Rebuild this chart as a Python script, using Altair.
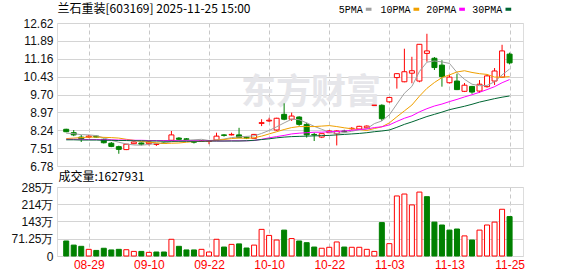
import json
import altair as alt
import pandas as pd

# ---------------- data ----------------
opens = [8.28, 8.14, 7.96, 7.96, 8.00, 7.87, 7.71, 7.57, 7.45, 7.69,
         7.72, 7.69, 7.66, 7.72, 7.83, 7.92, 7.89, 7.78, 7.78, 7.78,
         7.84, 8.05, 8.05, 8.05, 7.95, 7.91, 8.52, 8.62, 8.25, 8.89,
         8.69, 8.78, 8.48, 8.07, 7.96, 8.14, 8.10, 8.21, 8.30, 8.29,
         8.34, 9.26, 9.26, 9.40, 10.39, 10.22, 10.57, 10.25, 11.38, 11.18,
         10.90, 10.18, 10.25, 9.83, 10.03, 9.84, 10.02, 10.25, 10.41, 11.35]
highs = [8.30, 8.25, 8.05, 8.05, 8.02, 7.90, 7.76, 7.61, 7.68, 7.78,
         7.74, 7.78, 7.70, 7.75, 8.21, 7.96, 7.92, 7.80, 7.84, 7.82,
         8.14, 8.08, 8.14, 8.34, 7.98, 8.09, 8.69, 8.75, 8.75, 9.34,
         8.96, 8.81, 8.55, 8.14, 8.10, 8.25, 8.24, 8.26, 8.37, 8.42,
         8.44, 9.26, 9.30, 9.58, 10.57, 11.57, 11.24, 11.76, 12.18, 11.23,
         11.10, 10.50, 10.55, 10.17, 10.05, 10.29, 10.52, 10.78, 11.73, 11.41]
lows = [8.16, 8.00, 7.76, 7.92, 7.94, 7.70, 7.55, 7.28, 7.43, 7.67,
        7.62, 7.62, 7.60, 7.68, 7.80, 7.84, 7.83, 7.70, 7.76, 7.67,
        7.82, 7.98, 8.03, 7.92, 7.88, 7.90, 8.41, 8.58, 8.22, 8.65,
        8.62, 8.42, 7.94, 7.80, 7.92, 8.12, 7.62, 8.15, 8.26, 8.27,
        8.32, 9.26, 8.62, 9.36, 9.94, 10.20, 10.16, 10.20, 11.04, 10.70,
        10.02, 10.15, 9.88, 9.80, 9.73, 9.77, 9.98, 10.09, 10.38, 10.93]
closes = [8.18, 8.05, 7.89, 8.00, 7.96, 7.73, 7.58, 7.46, 7.67, 7.76,
          7.67, 7.76, 7.68, 7.70, 8.05, 7.87, 7.86, 7.75, 7.80, 7.80,
          8.00, 8.03, 8.07, 7.94, 7.92, 8.07, 8.55, 8.65, 8.73, 8.69,
          8.82, 8.48, 8.05, 8.05, 8.10, 8.21, 8.21, 8.18, 8.32, 8.40,
          8.41, 9.26, 8.71, 9.58, 10.55, 10.63, 10.67, 11.75, 11.48, 10.80,
          10.43, 10.41, 9.90, 10.08, 9.80, 10.12, 10.46, 10.66, 11.48, 10.99]
# volume in 万 shares
volumes = [62, 45, 40, 27.5, 23, 32, 25, 27.5, 26, 19,
           19, 15, 16.5, 16.5, 69, 40, 25, 25, 27.5, 16.5,
           69, 37, 48, 50, 33, 45, 110, 85, 66, 107,
           72, 62, 55, 37, 32, 36, 58, 37, 36, 36,
           27.5, 19, 138, 51, 248, 256, 211, 264, 245, 140,
           128, 107, 111.5, 83, 66, 107, 128, 140, 193, 162.79]
vol_up = [0, 0, 0, 1, 0, 0, 0, 0, 1, 1, 0, 1, 0, 0, 1, 0, 0, 0, 1, 1,
          1, 0, 1, 0, 0, 1, 1, 1, 1, 0, 1, 0, 0, 0, 1, 1, 1, 0, 1, 1,
          1, 1, 0, 1, 1, 1, 1, 1, 0, 0, 0, 0, 0, 1, 0, 1, 1, 1, 1, 0]
ma5 = [8.12, 8.10, 8.06, 8.05, 8.02, 7.93, 7.83, 7.75, 7.68, 7.64,
       7.63, 7.66, 7.70, 7.71, 7.77, 7.81, 7.83, 7.85, 7.87, 7.82,
       7.84, 7.88, 7.94, 7.97, 7.99, 8.01, 8.11, 8.23, 8.38, 8.54,
       8.69, 8.67, 8.54, 8.40, 8.28, 8.16, 8.11, 8.14, 8.20, 8.26,
       8.30, 8.51, 8.62, 8.87, 9.31, 9.75, 10.03, 10.64, 11.02, 11.07,
       11.03, 10.97, 10.60, 10.32, 10.12, 10.06, 10.07, 10.22, 10.50, 10.74]
ma10 = [7.90, 7.92, 7.94, 7.96, 7.96, 7.95, 7.94, 7.92, 7.87, 7.83,
        7.78, 7.75, 7.73, 7.70, 7.71, 7.72, 7.75, 7.78, 7.79, 7.80,
        7.83, 7.86, 7.90, 7.92, 7.91, 7.93, 8.00, 8.09, 8.18, 8.27,
        8.35, 8.39, 8.39, 8.39, 8.41, 8.43, 8.39, 8.34, 8.30, 8.27,
        8.23, 8.31, 8.38, 8.54, 8.79, 9.03, 9.27, 9.63, 9.95, 10.19,
        10.39, 10.50, 10.62, 10.67, 10.60, 10.55, 10.52, 10.41, 10.41, 10.43]
ma20 = [7.87, 7.87, 7.87, 7.86, 7.86, 7.85, 7.85, 7.84, 7.84, 7.83,
        7.83, 7.82, 7.82, 7.82, 7.82, 7.81, 7.81, 7.81, 7.81, 7.81,
        7.80, 7.80, 7.81, 7.81, 7.81, 7.82, 7.87, 7.93, 7.98, 8.03,
        8.09, 8.12, 8.14, 8.16, 8.16, 8.18, 8.19, 8.21, 8.24, 8.27,
        8.29, 8.35, 8.38, 8.46, 8.60, 8.73, 8.83, 8.99, 9.12, 9.23,
        9.31, 9.41, 9.50, 9.60, 9.69, 9.79, 9.90, 10.02, 10.18, 10.31]
ma30 = [7.85, 7.85, 7.84, 7.84, 7.84, 7.83, 7.83, 7.82, 7.82, 7.81,
        7.81, 7.80, 7.80, 7.79, 7.79, 7.79, 7.79, 7.79, 7.79, 7.80,
        7.80, 7.80, 7.80, 7.80, 7.81, 7.83, 7.86, 7.89, 7.93, 7.96,
        7.98, 7.99, 8.00, 8.01, 8.02, 8.03, 8.05, 8.07, 8.09, 8.11,
        8.14, 8.18, 8.21, 8.25, 8.36, 8.48, 8.58, 8.69, 8.80, 8.89,
        8.98, 9.08, 9.15, 9.22, 9.30, 9.39, 9.46, 9.53, 9.59, 9.64]

tick_idx = [3, 11, 19, 27, 35, 43, 51, 59]
tick_labels = ["08-29", "09-10", "09-22", "10-10", "10-22", "11-03", "11-13", "11-25"]
price_ticks = [6.78, 7.51, 8.24, 8.97, 9.70, 10.43, 11.16, 11.89, 12.62]
vol_ticks = [0, 71.25, 143, 214, 285]
vol_tick_labels = ["0", "71.25万", "143万", "214万", "285万"]
title_text = "兰石重装[603169] 2025-11-25 15:00"
vol_title = "成交量:1627931"
watermark = "东方财富"
ma_names = ["5PMA", "10PMA", "20PMA", "30PMA"]
ma_colors = ["#a0a0a0", "#f0a000", "#ff00ff", "#006633"]

RED = "#ff0000"
GREEN = "#008000"
CJK = "Noto Sans CJK SC"
SANS = "Liberation Sans"

# ---------------- tables ----------------
n = len(closes)
idx = list(range(n))
df = pd.DataFrame({"idx": idx, "open": opens, "high": highs, "low": lows,
                   "close": closes, "vol": volumes, "vol_up": vol_up})
df["up"] = df["close"] >= df["open"]
df["vup"] = df["vol_up"] == 1

ma_df = pd.DataFrame({
    "idx": idx * 4,
    "series": sum([[nm] * n for nm in ma_names], []),
    "value": ma5 + ma10 + ma20 + ma30,
})

# ---------------- scales / axes ----------------
x_scale = alt.Scale(domain=[-0.56, 60.12], nice=False, zero=False)
grid_x = dict(values=tick_idx, ticks=False, domain=False, grid=True,
              gridDash=[4, 3], gridColor="#c8c8c8", title=None,
              labelFlush=False, labelOverlap=False)
x_top = alt.X("idx:Q", scale=x_scale, axis=alt.Axis(labels=False, **grid_x))
x_bot = alt.X("idx:Q", scale=x_scale, axis=alt.Axis(
    labelExpr=f"{json.dumps(tick_labels)}[indexof({json.dumps(tick_idx)}, datum.value)]",
    labelColor=RED, labelFontSize=12, labelFont=SANS, labelPadding=3, **grid_x))

y_common = dict(ticks=False, domain=False, grid=True, gridColor="#d4d4d4",
                labelPadding=4, labelFontSize=12, labelFont=SANS,
                labelColor="#111111", title=None, minExtent=46, maxExtent=46,
                labelFlush=False, labelOverlap=False)
y_scale = alt.Scale(domain=[6.78, 12.62], nice=False, zero=False)
y_axis = alt.Axis(values=price_ticks, format=".2f", **y_common)
vy_scale = alt.Scale(domain=[0, 285], nice=False)
vy_axis = alt.Axis(
    values=vol_ticks,
    labelExpr=f"{json.dumps(vol_tick_labels, ensure_ascii=False)}[indexof({json.dumps(vol_ticks)}, datum.value)]",
    **y_common)

one = pd.DataFrame({"t": [0]})

# ---------------- upper panel ----------------
wm = alt.Chart(one).mark_text(text=watermark, font=CJK, fontSize=35, fontWeight="bold",
                              color="#e6e6ea", align="center", baseline="middle").encode(
    x=alt.value(254), y=alt.value(70))

wick = alt.Chart(df).mark_rule(strokeWidth=1).encode(
    x=x_top, y=alt.Y("low:Q", scale=y_scale, axis=y_axis), y2="high:Q",
    color=alt.condition("datum.up", alt.value(RED), alt.value(GREEN)))

body = alt.Chart(df).mark_bar(size=5, strokeWidth=1).encode(
    x=x_top, y=alt.Y("open:Q", scale=y_scale, axis=y_axis), y2="close:Q",
    fill=alt.condition("datum.up", alt.value("white"), alt.value(GREEN)),
    stroke=alt.condition("datum.up", alt.value(RED), alt.value(GREEN)))

lines = alt.Chart(ma_df).mark_line(strokeWidth=1).encode(
    x=x_top, y=alt.Y("value:Q", scale=y_scale, axis=y_axis),
    color=alt.Color("series:N", scale=alt.Scale(domain=ma_names, range=ma_colors), legend=None))

title = alt.Chart(one).mark_text(text=title_text, font=CJK, fontSize=12, color="#000000",
                                 align="left", baseline="middle").encode(
    x=alt.value(0.5), y=alt.value(-13.8))

bound = alt.Chart(one).mark_rule(opacity=0, strokeWidth=0.5).encode(
    x=alt.value(-56), x2=alt.value(0), y=alt.value(-22.5))

legend_layers = []
text_x = [281.8, 323.5, 369.2, 415.2]
box_x = [308.8, 356.5, 402.2, 448.5]
for nm, col, tx, bx in zip(ma_names, ma_colors, text_x, box_x):
    legend_layers.append(alt.Chart(one).mark_text(
        text=nm, font="Liberation Mono", fontSize=10, color="#000000",
        align="left", baseline="middle").encode(x=alt.value(tx), y=alt.value(-13.5)))
    legend_layers.append(alt.Chart(one).mark_rect(color=col).encode(
        x=alt.value(bx), x2=alt.value(bx + 5.7), y=alt.value(-15.3), y2=alt.value(-12.2)))

upper = alt.layer(wm, wick, body, lines, title, bound, *legend_layers).properties(
    width=466, height=143)

# ---------------- lower panel ----------------
vbars = alt.Chart(df).mark_bar(size=5, strokeWidth=1).encode(
    x=x_bot, y=alt.Y("vol:Q", scale=vy_scale, axis=vy_axis),
    fill=alt.condition("datum.vup", alt.value("white"), alt.value(GREEN)),
    stroke=alt.condition("datum.vup", alt.value(RED), alt.value(GREEN)))

vtitle = alt.Chart(one).mark_text(text=vol_title, font=CJK, fontSize=12, color="#000000",
                                  align="left", baseline="middle").encode(
    x=alt.value(1.5), y=alt.value(-9.8))

lower = alt.layer(vbars, vtitle).properties(width=466, height=69)

chart = alt.vconcat(upper, lower, spacing=21, bounds="flush").properties(
    padding={"left": 0, "top": 0, "right": 6, "bottom": 4},
    background="white",
).configure_view(stroke="#a0a0a0", strokeWidth=1).configure(font=SANS)

chart.save("out.html", embed_options={"renderer": "svg", "actions": False})
